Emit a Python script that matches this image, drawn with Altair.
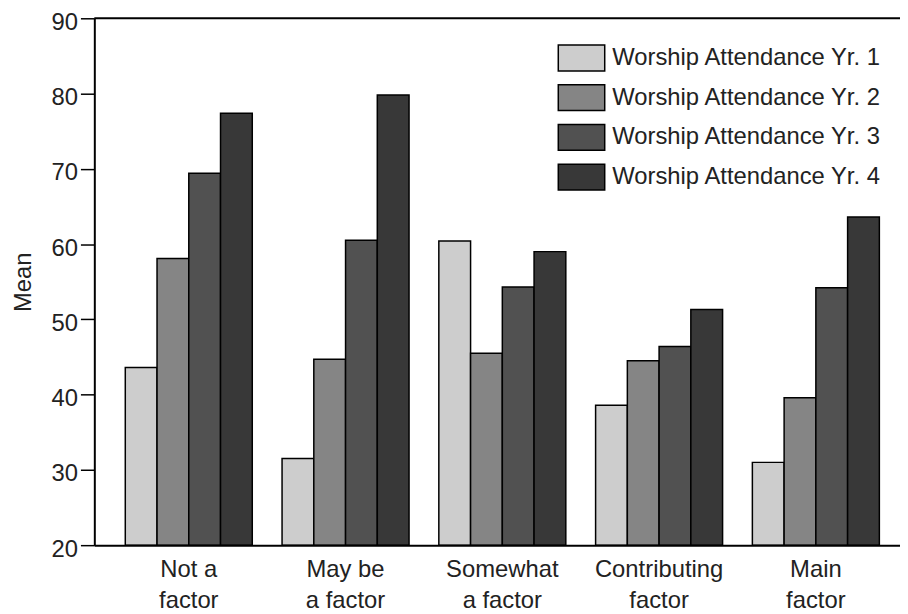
import altair as alt
import pandas as pd

categories = ["Not a|factor", "May be|a factor", "Somewhat|a factor", "Contributing|factor", "Main|factor"]
series = ["Worship Attendance Yr. 1", "Worship Attendance Yr. 2",
          "Worship Attendance Yr. 3", "Worship Attendance Yr. 4"]
yr1 = [43.6, 31.5, 60.4, 38.6, 31.0]
yr2 = [58.1, 44.7, 45.5, 44.5, 39.6]
yr3 = [69.4, 60.5, 54.3, 46.4, 54.2]
yr4 = [77.4, 79.8, 59.0, 51.3, 63.6]
colors = ["#cdcdcd", "#858585", "#515151", "#383838"]
y_ticks = [20, 30, 40, 50, 60, 70, 80, 90]
y_min, y_max = 20, 90

rows = []
for s, vals in zip(series, [yr1, yr2, yr3, yr4]):
    for c, v in zip(categories, vals):
        rows.append({"cat": c, "series": s, "mean": v})
df = pd.DataFrame(rows)

FONT = "Liberation Sans"

bars = alt.Chart(df).mark_bar(stroke="black", strokeWidth=1.5, opacity=1).encode(
    x=alt.X("cat:N", sort=categories,
            scale=alt.Scale(paddingInner=0.19, paddingOuter=0.1646, align=0.6),
            axis=alt.Axis(title=None, labelAngle=0, ticks=False, domainColor="black",
                          domainWidth=2, labelFontSize=24, labelFont=FONT,
                          labelColor="#222", labelLineHeight=31, labelPadding=13,
                          labelExpr="split(datum.label, '|')", zindex=1)),
    xOffset=alt.XOffset("series:N", sort=series, scale=alt.Scale(paddingInner=0, paddingOuter=0)),
    y=alt.Y("mean:Q", scale=alt.Scale(domain=[y_min, y_max], zero=False, nice=False),
            axis=alt.Axis(title="Mean", values=y_ticks, grid=False, tickSize=14,
                          tickColor="black", tickWidth=1.5, domainColor="black",
                          domainWidth=2, labelFontSize=24, labelFont=FONT,
                          labelColor="#222", labelPadding=3, labelOffset=4,
                          titleFontSize=24, titleFont=FONT, titleFontWeight="normal",
                          titleColor="#222", titlePadding=16, zindex=1)),
    y2=alt.datum(y_min),
    color=alt.Color("series:N", sort=series,
                    scale=alt.Scale(domain=series, range=colors),
                    legend=alt.Legend(title=None, orient="none", legendX=477, legendY=26,
                                      symbolType="M-1.8,-1H1.8V1H-1.8Z", symbolSize=676,
                                      symbolStrokeColor="black", symbolStrokeWidth=1.5,
                                      symbolOpacity=1, labelFontSize=24, labelFont=FONT,
                                      labelColor="#222", labelOffset=17, rowPadding=8,
                                      padding=0, labelLimit=400)),
)

top_rule = alt.Chart(pd.DataFrame({"y": [y_max]})).mark_rule(color="black", strokeWidth=2).encode(
    y=alt.Y("y:Q")
)

chart = alt.layer(bars, top_rule).properties(
    width=812, height=531,
    autosize=alt.AutoSizeParams(type="none"),
    padding={"left": 87, "top": 8, "right": 0, "bottom": 67},
    background="white",
).configure_view(stroke=None)

chart.save("out.html", embed_options={"renderer": "svg", "actions": False})
